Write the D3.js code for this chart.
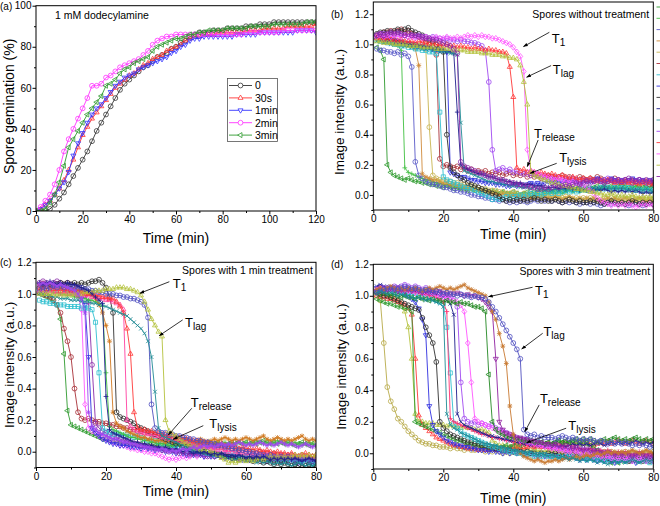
<!DOCTYPE html>
<html><head><meta charset="utf-8">
<script src="https://cdn.jsdelivr.net/npm/d3@7"></script>
<style>body{margin:0;background:#fff}svg{display:block}</style>
</head><body><svg id="c" width="660" height="506"></svg>
<script>
// ---------------- Panel (a) data ----------------
const germTimes = [0,2,4,6,8,10,12,14,16,18,20,22,24,26,28,30,32,34,36,38,40,42,44,46,48,50,52,54,56,58,60,62,64,66,68,70,72,74,76,78,80,82,84,86,88,90,92,94,96,98,100,102,104,106,108,110,112,114,116,118,120];
const germLabels = ["0","30s","1min","2min","3min"];
const germ0 = [0,0,0,1,3,6,9,13,17,21,25,29,34,39,43,47,51,55,59,62,64,66,68,70,71,73,75,76,77,79,80,82,83,85,86,87,87,87,88,88,88,89,89,89,89,90,90,90,91,91,91,92,92,92,92,92,92,92,92,92,92];
const germ30s = [0,1,3,5,8,11,15,20,25,31,37,41,45,48,51,54,57,60,62,64,66,67,69,71,72,74,75,76,78,79,80,81,83,84,85,85,86,86,86,87,87,87,87,87,87,88,88,88,88,89,89,89,89,89,90,90,90,90,90,90,91];
const germ1min = [0,1,3,5,8,11,14,19,27,33,38,43,47,50,52,55,58,61,63,65,66,67,69,70,71,72,73,74,75,77,78,80,81,83,84,84,85,85,85,85,85,85,85,86,86,86,86,86,87,87,87,87,87,87,87,87,88,88,88,88,87];
const germ2min = [0,2,5,8,13,20,29,35,40,45,50,55,61,61,62,65,66,68,70,71,72,73,74,76,78,81,83,84,85,85,86,86,86,86,86,86,86,86,86,86,86,86,86,86,86,87,87,87,87,87,87,87,87,88,88,88,88,88,88,88,88];
const germ3min = [0,0,1,4,8,14,22,31,35,39,43,47,50,53,56,61,62,64,67,69,70,72,73,74,75,78,80,81,82,83,84,84,85,86,86,87,87,88,88,88,88,89,89,89,89,89,90,90,90,90,90,91,91,91,91,91,91,91,92,92,92];

// ---------------- Panels (b)-(d): shared time axis ----------------
const minutes = [1,2,3,4,5,6,7,8,9,10,11,12,13,14,15,16,17,18,19,20,21,22,23,24,25,26,27,28,29,30,31,32,33,34,35,36,37,38,39,40,41,42,43,44,45,46,47,48,49,50,51,52,53,54,55,56,57,58,59,60,61,62,63,64,65,66,67,68,69,70,71,72,73,74,75,76,77,78,79,80];

// ---- Panel (b): spores without treatment ----
const b01 = [.98,.96,.90,.20,.15,.13,.12,.11,.10,.11, .10,.09,.09,.08,.08,.07,.07,.06,.06,.05, .06,.05,.04,.05,.04,.04,.03,.04,.03,.03, .02,.03,.02,.02,.02,.01,.02,.01,.01,.02, .01,0,.01,.02,.01,.02,.02,.03,.02,.03, .02,.03,.04,.03,.03,.04,.03,.04,.05,.04, .05,.04,.05,.06,.05,.06,.05,.06,.05,.06, .07,.06,.05,.06,.05,.06,.05,.06,.05,.06];
const b02 = [1.04,1.03,1.02,1.02,1.01,1.00,.99,.96,.18,.15, .14,.13,.12,.11,.10,.10,.09,.08,.08,.07, .07,.06,.06,.05,.05,.05,.04,.04,.03,.03, .03,.02,.02,.03,.02,.01,.02,.01,.01,0, .01,0,.01,0,-.01,0,.01,0,.01,.01, .02,.01,.02,.01,.02,.03,.02,.03,.02,.03, .04,.03,.04,.03,.04,.05,.04,.05,.04,.05, .04,.05,.04,.05,.06,.05,.04,.05,.04,.05];
const b03 = [.97,.96,.96,.95,.95,.94,.95,.93,.94,.92, .85,.22,.13,.11,.09,.08,.07,.07,.06,.05, .05,.04,.03,.03,.02,.02,.01,0,0,-.01, -.01,-.02,-.02,-.03,-.03,-.04,-.03,-.04,-.05,-.04, -.05,-.04,-.04,-.05,-.04,-.03,-.04,-.03,-.04,-.03, -.04,-.03,-.04,-.05,-.04,-.05,-.04,-.05,-.06,-.05, -.05,-.06,-.05,-.06,-.07,-.06,-.05,-.06,-.05,-.06, -.05,-.06,-.07,-.06,-.05,-.06,-.07,-.06,-.05,-.06];
const b04 = [1.06,1.05,1.05,1.04,1.04,1.03,1.03,1.02,1.01,1.00, .99,.97,.86,.14,.12,.11,.10,.10,.09,.08, .08,.07,.07,.06,.06,.05,.05,.04,.04,.03, .03,.02,.02,.01,.01,0,.01,0,-.01,0, -.01,-.01,-.02,-.01,-.02,-.02,-.01,-.02,-.01,-.02, -.02,-.01,-.02,-.03,-.02,-.01,-.02,-.03,-.02,-.03, -.02,-.03,-.02,-.03,-.04,-.03,-.02,-.03,-.02,-.03, -.03,-.02,-.03,-.04,-.03,-.02,-.03,-.04,-.03,-.04];
const b05 = [1.05,1.04,1.04,1.03,1.02,1.02,1.01,1.01,1.00,1.00, .99,.99,.98,.98,.97,.45,.13,.11,.10,.10, .09,.09,.08,.08,.07,.07,.06,.06,.05,.05, .04,.04,.03,.03,.03,.02,.02,.01,.01,.02, .01,0,.01,0,0,-.01,0,-.01,0,-.01, -.01,-.02,-.01,-.02,-.01,-.02,-.03,-.02,-.03,-.02, -.03,-.02,-.03,-.04,-.03,-.02,-.03,-.02,-.03,-.04, -.03,-.04,-.03,-.02,-.03,-.04,-.03,-.02,-.03,-.04];
const b06 = [1.06,1.07,1.08,1.08,1.09,1.08,1.09,1.10,1.08,1.09, 1.07,1.06,1.05,1.03,1.02,1.00,.98,.93,.24,.19, .20,.19,.18,.19,.17,.18,.16,.17,.15,.16, .15,.16,.14,.15,.14,.15,.13,.14,.15,.13, .14,.13,.14,.12,.13,.12,.13,.11,.12,.13, .12,.11,.12,.13,.11,.12,.11,.10,.12,.11, .10,.11,.10,.12,.11,.10,.09,.10,.11,.10, .09,.10,.09,.08,.09,.10,.09,.08,.07,.08];
const b07 = [1.03,1.02,1.02,1.01,1.01,1.00,1.00,.99,.99,.98, .98,.97,.97,.96,.96,.95,.95,.94,.55,.12, .10,.09,.08,.07,.06,.05,.05,.04,.03,.02, .01,0,-.01,-.03,-.02,-.03,-.02,-.01,-.02,-.01, -.01,0,-.01,0,.01,0,.01,0,.01,.02, .01,.02,.01,.02,.03,.02,.03,.02,.03,.04, .03,.04,.03,.04,.05,.04,.05,.04,.05,.04, .05,.04,.05,.04,.03,.04,.03,.04,.03,.04];
const b08 = [1.05,1.05,1.04,1.04,1.03,1.03,1.02,1.02,1.01,1.01, 1.00,1.00,.99,.99,.98,.98,.97,.97,.96,.96, .95,.15,.14,.13,.12,.12,.11,.10,.10,.09, .09,.08,.08,.08,.07,.07,.07,.06,.06,.07, .06,.07,.06,.07,.08,.07,.08,.07,.08,.09, .08,.09,.08,.09,.10,.09,.10,.09,.08,.09, .10,.09,.10,.11,.10,.09,.10,.11,.10,.09, .10,.09,.10,.11,.10,.09,.10,.09,.10,.09];
const b09 = [1.07,1.08,1.08,1.09,1.08,1.09,1.10,1.09,1.10,1.11, 1.09,1.08,1.07,1.06,1.05,1.03,1.02,1.00,.98,.95, .40,.18,.15,.13,.11,.10,.08,.07,.06,.05, .04,.03,.02,.01,0,-.01,-.03,-.04,-.03,-.04, -.03,-.04,-.03,-.04,-.03,-.02,-.03,-.04,-.03,-.04, -.04,-.03,-.04,-.05,-.04,-.03,-.04,-.05,-.04,-.05, -.05,-.04,-.05,-.04,-.05,-.06,-.05,-.04,-.05,-.06, -.05,-.06,-.05,-.04,-.05,-.06,-.05,-.06,-.05,-.06];
const b10 = [1.04,1.04,1.03,1.03,1.03,1.02,1.02,1.01,1.01,1.00, 1.00,1.00,.99,.99,.98,.98,.97,.97,.96,.96, .95,.95,.94,.55,.20,.18,.17,.16,.15,.14, .14,.13,.12,.12,.11,.10,.10,.09,.09,.08, .08,.08,.07,.07,.07,.06,.06,.06,.05,.05, .05,.05,.04,.05,.04,.05,.04,.04,.03,.04, .03,.04,.03,.04,.03,.04,.03,.02,.03,.02, .03,.02,.03,.02,.03,.02,.01,.02,.01,.02];
const b11 = [1.02,1.02,1.01,1.01,1.00,1.00,1.00,.99,.99,.99, .98,.98,.98,.97,.97,.97,.96,.96,.95,.95, .95,.94,.94,.93,.48,.16,.15,.14,.13,.12, .11,.10,.09,.09,.08,.08,.07,.07,.06,.06, .06,.05,.05,.05,.04,.05,.04,.04,.03,.04, .03,.04,.03,.04,.03,.04,.05,.04,.05,.04, .05,.04,.05,.04,.05,.06,.05,.04,.05,.04, .05,.04,.03,.04,.03,.04,.03,.04,.03,.02];
const b12 = [1.06,1.07,1.07,1.06,1.07,1.06,1.07,1.06,1.06,1.05, 1.06,1.05,1.06,1.05,1.05,1.04,1.05,1.04,1.04,1.03, 1.04,1.03,1.03,1.02,1.03,1.02,1.02,1.01,1.01,1.00, .99,.96,.75,.30,.16,.17,.18,.16,.17,.15, .16,.15,.14,.15,.13,.14,.13,.12,.13,.12, .11,.12,.11,.10,.11,.10,.11,.10,.09,.10, .09,.10,.09,.10,.09,.10,.11,.10,.09,.10, .09,.10,.09,.08,.09,.10,.09,.08,.09,.08];
const b13 = [1.04,1.04,1.03,1.04,1.03,1.03,1.02,1.03,1.02,1.02, 1.02,1.01,1.02,1.01,1.01,1.00,1.01,1.00,1.00,.99, 1.00,.99,.99,.98,.99,.98,.98,.97,.98,.97, .97,.96,.97,.96,.96,.95,.95,.94,.85,.65, .18,.16,.17,.15,.16,.15,.14,.15,.14,.13, .14,.13,.12,.13,.12,.11,.12,.11,.10,.11, .10,.11,.10,.09,.10,.09,.10,.09,.08,.09, .08,.09,.08,.09,.08,.07,.08,.09,.08,.07];
const b14 = [1.05,1.06,1.05,1.06,1.05,1.06,1.05,1.05,1.06,1.05, 1.05,1.04,1.05,1.04,1.05,1.04,1.04,1.05,1.04,1.04, 1.05,1.04,1.04,1.05,1.04,1.05,1.06,1.05,1.06,1.05, 1.06,1.05,1.05,1.04,1.04,1.03,1.02,1.01,1.00,.98, .95,.92,.82,.30,.16,.15,.14,.13,.12,.12, .11,.10,.11,.10,.09,.08,.09,.08,.07,.06, .05,.03,.01,-.02,-.04,-.05,-.06,-.07,-.06,-.07, -.06,-.07,-.06,-.07,-.08,-.07,-.06,-.07,-.06,-.07];
const b15 = [1.02,1.02,1.01,1.01,1.01,1.00,1.00,1.00,1.00,.99, .99,.99,.99,.98,.98,.98,.98,.97,.97,.97, .97,.97,.96,.96,.96,.96,.95,.95,.95,.95, .94,.94,.94,.93,.93,.93,.92,.92,.91,.91, .90,.86,.75,.60,.15,.13,.12,.11,.10,.09, .08,.08,.07,.06,.06,.05,.05,.04,.04,.03, .03,.02,.02,.01,.01,0,0,.01,0,-.01, 0,-.01,-.01,0,-.01,-.02,-.01,-.02,-.01,-.02];
const b16 = [1.06,1.07,1.06,1.07,1.08,1.07,1.08,1.07,1.06,1.07, 1.06,1.06,1.05,1.05,1.04,1.04,1.03,1.03,1.02,1.01, 1.00,.99,.97,.94,.22,.19,.18,.17,.16,.15, .14,.13,.12,.12,.11,.10,.10,.09,.08,.08, .07,.07,.06,.06,.05,.05,.04,.04,.05,.04, .05,.06,.05,.06,.07,.06,.07,.08,.07,.08, .09,.08,.09,.10,.09,.08,.09,.10,.09,.10, .09,.10,.11,.10,.09,.10,.09,.10,.09,.10];

// ---- Panel (c): spores with 1 min treatment ----
const c01 = [1.00,.99,.98,.97,.95,.93,.84,.62,.26,.17, .16,.15,.14,.13,.12,.11,.10,.09,.08,.08, .07,.07,.06,.06,.05,.05,.05,.05,.04,.05, .04,.04,.05,.04,.04,.03,.04,.04,.03,.04, .04,.05,.04,.05,.04,.05,.04,.05,.06,.05, .05,.06,.05,.04,.05,.06,.05,.06,.05,.06, .05,.06,.05,.06,.07,.06,.05,.06,.05,.06, .05,.06,.05,.04,.05,.06,.05,.04,.05,.04];
const c02 = [1.01,1.00,.99,.98,.96,.93,.88,.78,.70,.60, .40,.25,.21,.20,.21,.20,.19,.19,.18,.18, .17,.17,.16,.16,.15,.15,.14,.14,.13,.13, .12,.12,.11,.11,.10,.10,.09,.09,.08,.08, .07,.07,.06,.06,.05,.05,.05,.04,.04,.04, .03,.03,.03,.02,.02,.02,.01,.01,.01,0, 0,0,-.01,0,-.01,-.01,-.02,-.01,-.02,-.02, -.02,-.03,-.02,-.03,-.03,-.02,-.03,-.04,-.03,-.04];
const c03 = [1.05,1.06,1.05,1.06,1.05,1.04,1.05,1.04,1.03,1.02, 1.01,.99,.90,.30,.15,.13,.12,.10,.09,.08, .07,.06,.05,.04,.04,.03,.02,.02,.01,.01, 0,0,-.01,-.01,-.02,-.03,-.04,-.05,-.04,-.05, -.04,-.03,-.04,-.03,-.02,-.03,-.02,-.03,-.02,-.01, -.02,-.01,-.02,-.01,-.02,-.03,-.02,-.03,-.04,-.03, -.04,-.03,-.04,-.05,-.04,-.03,-.04,-.05,-.04,-.05, -.04,-.05,-.04,-.05,-.06,-.05,-.04,-.05,-.06,-.05];
const c04 = [1.06,1.05,1.06,1.05,1.04,1.05,1.04,1.03,1.02,1.01, 1.00,.99,.97,.93,.60,.15,.12,.10,.08,.07, .06,.05,.05,.04,.04,.04,.03,.03,.03,.02, .03,.02,.02,.01,.02,.01,0,.01,0,-.01, 0,-.01,-.02,-.01,-.02,-.01,-.02,-.03,-.02,-.03, -.03,-.02,-.03,-.04,-.03,-.04,-.03,-.04,-.05,-.04, -.05,-.04,-.05,-.04,-.05,-.06,-.05,-.04,-.05,-.06, -.05,-.06,-.05,-.06,-.07,-.06,-.05,-.06,-.07,-.06];
const c05 = [1.07,1.08,1.07,1.06,1.07,1.08,1.07,1.06,1.07,1.06, 1.05,1.04,1.02,.99,.95,.55,.18,.15,.13,.12, .11,.10,.09,.08,.07,.07,.06,.05,.05,.04, .04,.03,.03,.02,.02,.01,.01,0,.01,0, -.01,0,-.01,-.02,-.01,-.02,-.01,-.02,-.03,-.02, -.03,-.02,-.03,-.02,-.03,-.04,-.03,-.04,-.03,-.04, -.03,-.04,-.05,-.04,-.03,-.04,-.05,-.04,-.05,-.04, -.05,-.04,-.05,-.06,-.05,-.04,-.05,-.06,-.05,-.06];
const c06 = [.96,.95,.95,.94,.94,.93,.93,.93,.92,.92, .92,.92,.91,.91,.91,.90,.82,.50,.15,.13, .12,.11,.12,.11,.10,.11,.10,.09,.10,.09, .08,.07,.08,.07,.06,.05,.06,.05,.04,.04, .03,.03,.02,.02,.01,.01,0,0,-.01,-.01, -.02,-.01,-.02,-.03,-.02,-.03,-.02,-.03,-.04,-.03, -.04,-.03,-.04,-.05,-.04,-.05,-.04,-.05,-.06,-.05, -.06,-.05,-.06,-.07,-.06,-.07,-.06,-.07,-.08,-.07];
const c07 = [1.03,1.03,1.02,1.02,1.01,1.01,1.00,1.00,.99,.99, .98,.98,.97,.97,.96,.96,.95,.94,.92,.50, .16,.14,.13,.12,.11,.10,.09,.09,.08,.08, .07,.07,.06,.06,.05,.05,.05,.04,.04,.05, .04,.05,.04,.05,.04,.05,.06,.05,.04,.05, .05,.06,.05,.06,.05,.04,.05,.06,.05,.06, .05,.06,.07,.06,.05,.06,.05,.06,.07,.06, .05,.06,.05,.06,.05,.04,.05,.06,.05,.04];
const c08 = [1.06,1.07,1.06,1.05,1.06,1.05,1.04,1.05,1.04,1.03, 1.03,1.02,1.02,1.01,1.00,.99,.97,.93,.88,.80, .70,.25,.18,.16,.15,.13,.12,.11,.10,.09, .09,.08,.08,.07,.07,.07,.06,.07,.06,.07, .06,.07,.08,.07,.06,.07,.08,.07,.06,.07, .08,.07,.08,.09,.08,.07,.08,.07,.08,.09, .08,.07,.08,.09,.10,.08,.07,.08,.09,.08, .07,.08,.07,.08,.09,.10,.08,.07,.08,.07];
const c09 = [1.04,1.05,1.05,1.06,1.05,1.06,1.07,1.06,1.07,1.06, 1.07,1.06,1.07,1.06,1.07,1.08,1.08,1.09,1.07,1.04, .98,.88,.25,.22,.21,.20,.19,.18,.16,.15, .14,.13,.12,.11,.10,.09,.08,.07,.06,.05, .05,.04,.03,.03,.02,.01,.01,0,0,-.01, -.01,-.02,-.02,-.03,-.03,-.04,-.04,-.05,-.04,-.05, -.05,-.06,-.05,-.06,-.07,-.06,-.07,-.08,-.07,-.08, -.07,-.08,-.09,-.08,-.09,-.10,-.09,-.08,-.09,-.10];
const c10 = [1.02,1.02,1.01,1.02,1.01,1.01,1.00,1.01,1.00,1.00, 1.00,.99,1.00,.99,.99,.98,.98,.97,.97,.96, .96,.95,.94,.93,.90,.20,.16,.14,.13,.12, .12,.11,.11,.10,.10,.09,.09,.08,.08,.07, .07,.06,.06,.05,.05,.04,.04,.03,.03,.02, .02,.01,.02,.01,0,.01,0,-.01,0,-.01, -.01,-.02,-.01,-.02,-.01,-.02,-.03,-.02,-.03,-.02, -.03,-.02,-.03,-.04,-.03,-.02,-.03,-.04,-.03,-.04];
const c11 = [1.04,1.04,1.03,1.04,1.03,1.03,1.02,1.03,1.02,1.02, 1.02,1.01,1.01,1.00,1.00,1.00,.99,.99,.98,.98, .97,.97,.95,.92,.88,.78,.62,.25,.15,.14, .14,.13,.13,.12,.12,.11,.11,.10,.10,.09, .09,.09,.08,.08,.07,.07,.06,.06,.06,.05, .05,.04,.05,.04,.03,.04,.03,.02,.03,.02, .02,.01,.02,.01,0,.01,0,-.01,0,-.01, -.01,-.02,-.01,-.02,-.03,-.02,-.01,-.02,-.03,-.02];
const c12 = [1.03,1.04,1.03,1.04,1.05,1.04,1.05,1.04,1.05,1.04, 1.04,1.03,1.04,1.03,1.03,1.02,1.02,1.01,1.01,1.00, 1.00,1.00,.99,.99,.98,.98,.97,.97,.96,.95, .93,.85,.30,.15,.13,.12,.12,.11,.11,.10, .10,.09,.09,.08,.08,.07,.07,.06,.06,.05, .05,.04,.04,.03,.03,.02,.02,.01,.01,0, 0,-.01,-.01,-.02,-.02,-.03,-.02,-.03,-.04,-.03, -.04,-.03,-.04,-.05,-.04,-.05,-.04,-.05,-.06,-.05];
const c13 = [1.00,1.00,.99,.99,.98,.98,.97,.97,.97,.96, .96,.96,.95,.95,.95,.94,.94,.93,.93,.92, .91,.90,.89,.88,.87,.86,.84,.82,.80,.78, .75,.70,.60,.38,.15,.10,.09,.08,.07,.06, .05,.04,.03,.02,.01,0,0,-.01,-.01,-.02, -.02,-.03,-.03,-.04,-.04,-.05,-.05,-.04,-.05,-.06, -.05,-.06,-.07,-.06,-.07,-.06,-.07,-.08,-.07,-.08, -.07,-.08,-.09,-.08,-.07,-.08,-.09,-.08,-.09,-.08];
const c14 = [1.00,1.00,1.00,1.00,1.00,.99,1.00,.99,1.00,.99, 1.00,1.00,1.00,1.01,1.01,1.01,1.02,1.02,1.02,1.03, 1.03,1.03,1.04,1.04,1.04,1.03,1.03,1.02,1.01,.99, .95,.90,.84,.80,.76,.73,.20,.13,.11,.10, .08,.06,.05,.04,.03,.02,.01,.01,0,0, -.01,-.02,-.04,-.05,-.07,-.06,-.07,-.06,-.05,-.06, -.05,-.06,-.05,-.04,-.05,-.04,-.03,-.04,-.03,-.04, -.03,-.04,-.03,-.02,-.03,-.02,-.03,-.02,-.03,-.02];
const c15 = [1.07,1.06,1.07,1.08,1.07,1.06,1.07,1.06,1.07,1.06, 1.06,1.05,1.04,1.03,1.02,1.00,.98,.96,.94,.35, .14,.12,.11,.10,.09,.08,.07,.06,.06,.05, .05,.04,.04,.03,.03,.02,.03,.02,.01,.02, .01,0,.01,0,-.01,0,-.01,0,-.01,-.02, -.01,-.02,-.01,-.02,-.03,-.02,-.03,-.02,-.03,-.04, -.03,-.04,-.03,-.04,-.03,-.04,-.05,-.04,-.05,-.04, -.05,-.04,-.05,-.04,-.05,-.06,-.05,-.04,-.05,-.06];
const c16 = [1.06,1.07,1.06,1.07,1.06,1.05,1.06,1.05,1.04,1.03, 1.02,1.00,.97,.88,.25,.16,.14,.12,.11,.10, .09,.08,.08,.07,.06,.06,.05,.05,.04,.04, .03,.03,.02,.02,.01,.02,.01,0,.01,0, .01,.02,.01,.02,.03,.02,.03,.04,.03,.04, .03,.04,.05,.04,.05,.04,.05,.06,.05,.04, .05,.04,.05,.06,.05,.04,.05,.04,.05,.06, .05,.04,.05,.04,.03,.04,.05,.04,.03,.04];

// ---- Panel (d): spores with 3 min treatment ----
const d01 = [1.00,.97,.70,.42,.33,.28,.22,.20,.17,.14, .12,.10,.08,.07,.06,.06,.05,.05,.04,.04, .04,.03,.04,.03,.03,.02,.03,.02,.02,.03, .02,.01,.02,.01,.02,.01,0,.01,0,.01, 0,.01,0,-.01,0,.01,0,-.01,0,.01, 0,.01,0,.01,0,-.01,0,.01,0,.01, 0,.01,.02,.01,0,.01,0,.01,0,-.01, 0,.01,0,.01,0,-.01,0,.01,0,.01];
const d02 = [1.02,1.01,1.01,1.00,.99,.98,.97,.95,.90,.80, .60,.25,.20,.20,.19,.19,.19,.18,.18,.18, .17,.18,.17,.17,.16,.17,.16,.16,.15,.15, .15,.14,.13,.08,.06,.05,.05,.04,.04,.04, .03,.03,.03,.02,.02,.02,.02,.01,.01,.01, .01,0,.01,0,0,.01,0,-.01,0,0, -.01,0,-.01,0,-.01,-.02,-.01,0,-.01,0, -.01,-.02,-.01,0,-.01,-.02,-.01,0,-.01,-.02];
const d03 = [1.00,.99,.99,.98,.98,.97,.96,.95,.94,.92, .88,.60,.24,.18,.16,.14,.12,.10,.09,.08, .07,.06,.05,.05,.04,.04,.03,.03,.03,.02, .03,.02,.02,.03,.02,.02,.03,.02,.03,.04, .03,.04,.03,.04,.05,.04,.05,.04,.05,.06, .05,.06,.05,.06,.07,.06,.05,.06,.07,.06, .07,.06,.05,.06,.07,.06,.07,.06,.07,.08, .07,.06,.07,.08,.07,.06,.07,.08,.07,.06];
const d04 = [.98,.97,.96,.95,.95,.94,.93,.93,.92,.92, .90,.20,.19,.18,.17,.16,.15,.14,.13,.12, .11,.10,.09,.08,.08,.07,.06,.06,.05,.05, .04,.04,.03,.03,.04,.03,.04,.05,.04,.05, .06,.05,.06,.07,.06,.05,.06,.07,.06,.07, .06,.07,.08,.07,.06,.07,.08,.07,.06,.07, .06,.05,.04,.02,0,-.02,-.04,-.06,-.05,-.06, -.05,-.04,-.05,-.04,-.05,-.04,-.03,-.04,-.03,-.04];
const d05 = [1.05,1.06,1.05,1.04,1.05,1.04,1.03,1.02,1.01,1.00, .98,.96,.92,.85,.75,.30,.18,.14,.12,.10, .08,.07,.06,.05,.05,.04,.04,.03,.03,.02, .02,.02,.01,.02,.01,.01,0,.01,0,.01, 0,.01,0,-.01,0,-.01,-.02,-.01,-.02,-.01, -.02,-.01,-.02,-.03,-.02,-.03,-.02,-.03,-.04,-.03, -.04,-.03,-.04,-.05,-.04,-.05,-.04,-.05,-.06,-.05, -.04,-.05,-.04,-.05,-.06,-.05,-.04,-.05,-.04,-.05];
const d06 = [1.02,1.01,1.00,1.00,.99,.98,.97,.96,.95,.94, .93,.92,.91,.86,.80,.75,.70,.58,.20,.16, .14,.12,.11,.10,.09,.08,.07,.07,.06,.06, .05,.05,.04,.04,.03,.03,.02,.02,.02,.01, .01,.01,0,.01,0,0,-.01,0,-.01,0, -.01,0,-.01,-.02,-.01,-.02,-.01,-.02,-.03,-.02, -.03,-.02,-.03,-.02,-.03,-.04,-.03,-.04,-.03,-.04, -.03,-.04,-.05,-.04,-.03,-.04,-.05,-.04,-.05,-.04];
const d07 = [1.03,1.04,1.03,1.04,1.03,1.02,1.03,1.02,1.01,1.02, 1.01,1.00,1.00,.99,.99,.98,.98,.97,.96,.95, .80,.51,.19,.16,.14,.12,.11,.10,.09,.08, .07,.06,.05,.04,.04,.03,.02,.02,.01,.01, 0,0,-.01,0,-.01,-.02,-.01,-.02,-.01,-.02, -.02,-.03,-.02,-.03,-.02,-.01,-.02,-.03,-.02,-.03, -.04,-.03,-.04,-.03,-.04,-.05,-.04,-.03,-.04,-.05, -.04,-.05,-.04,-.03,-.04,-.05,-.04,-.05,-.06,-.05];
const d08 = [1.04,1.05,1.04,1.05,1.04,1.05,1.04,1.03,1.04,1.03, 1.03,1.02,1.02,1.01,1.01,1.00,1.00,.99,.98,.96, .90,.22,.20,.19,.18,.17,.16,.15,.14,.13, .12,.12,.11,.10,.10,.09,.09,.08,.08,.07, .07,.06,.06,.05,.05,.04,.05,.04,.04,.03, .03,.04,.03,.04,.03,.02,.03,.02,.03,.02, .02,.03,.02,.01,.02,.01,.02,.01,0,.01, 0,.01,0,-.01,0,.01,0,-.01,0,-.01];
const d09 = [1.06,1.07,1.06,1.05,1.06,1.05,1.06,1.05,1.04,1.05, 1.04,1.03,1.04,1.03,1.02,1.03,1.02,1.01,1.00,.99, .97,.95,.88,.25,.20,.18,.17,.16,.15,.14, .13,.12,.11,.11,.10,.10,.09,.09,.08,.08, .07,.07,.06,.06,.05,.06,.05,.05,.04,.05, .04,.05,.04,.05,.04,.05,.06,.05,.06,.05, .06,.05,.06,.07,.06,.05,.06,.07,.06,.07, .06,.07,.06,.07,.08,.07,.06,.07,.06,.07];
const d10 = [1.03,1.04,1.05,1.04,1.05,1.06,1.05,1.06,1.07,1.06, 1.05,1.06,1.05,1.04,1.05,1.04,1.03,1.03,1.02,1.01, 1.00,.99,.97,.93,.45,.22,.20,.19,.20,.18, .19,.18,.17,.18,.16,.15,.14,.13,.12,.11, .10,.09,.09,.08,.07,.07,.06,.06,.05,.05, .04,.04,.03,.03,.02,.02,.03,.02,.01,.02, .01,0,.01,0,-.01,0,-.01,-.02,-.01,-.02, -.01,-.02,-.03,-.02,-.01,-.02,-.03,-.02,-.03,-.02];
const d11 = [1.04,1.05,1.04,1.05,1.04,1.05,1.04,1.03,1.04,1.03, 1.03,1.02,1.03,1.02,1.01,1.02,1.01,1.00,1.00,.99, .99,.98,.97,.96,.94,.90,.70,.45,.22,.20, .19,.18,.17,.16,.15,.14,.13,.12,.11,.10, .09,.08,.08,.07,.06,.06,.05,.05,.04,.04, .03,.03,.02,.02,.01,.01,0,.01,0,-.01, 0,-.01,-.02,-.01,-.02,-.03,-.02,-.03,-.04,-.03, -.04,-.03,-.04,-.05,-.04,-.03,-.04,-.05,-.04,-.05];
const d12 = [1.02,1.01,1.02,1.01,1.00,1.01,1.00,.99,1.00,.99, .99,.98,.99,.98,.98,.97,.98,.97,.97,.96, .97,.96,.96,.95,.96,.95,.95,.94,.93,.93, .92,.90,.50,.20,.15,.13,.12,.11,.10,.10, .09,.09,.08,.08,.08,.07,.07,.07,.06,.07, .06,.07,.08,.07,.08,.07,.08,.09,.08,.09, .08,.09,.08,.07,.08,.09,.08,.09,.10,.09, .08,.09,.08,.09,.10,.09,.08,.09,.08,.09];
const d13 = [1.03,1.04,1.03,1.04,1.05,1.04,1.03,1.04,1.03,1.04, 1.03,1.04,1.03,1.02,1.03,1.02,1.03,1.02,1.03,1.02, 1.01,1.02,1.01,1.02,1.01,1.00,1.01,1.00,1.00,.99, .98,.96,.93,.90,.60,.20,.15,.13,.12,.11, .10,.10,.09,.09,.08,.08,.07,.07,.06,.06, .05,.06,.05,.04,.05,.04,.03,.04,.03,.02, .03,.02,.01,.02,.01,0,.01,0,-.01,0, -.01,0,-.01,-.02,-.01,0,-.01,-.02,-.01,-.02];
const d14 = [1.04,1.05,1.04,1.05,1.06,1.05,1.04,1.05,1.04,1.05, 1.04,1.05,1.04,1.03,1.04,1.05,1.04,1.05,1.06,1.05, 1.04,1.05,1.04,1.05,1.06,1.07,1.05,1.04,1.03,1.02, 1.01,1.00,.96,.90,.85,.76,.68,.57,.30,.12, .04,0,-.02,-.03,-.04,-.05,-.04,-.05,-.06,-.05, -.05,-.04,-.05,-.04,-.03,-.04,-.03,-.02,-.03,-.02, -.01,-.02,-.01,0,-.01,0,.01,0,.01,0, .01,0,.01,.02,.01,0,.01,.02,.01,0];
const d15 = [1.02,1.03,1.04,1.05,1.04,1.05,1.04,1.05,1.06,1.05, 1.04,1.05,1.04,1.03,1.04,1.03,1.02,1.03,1.02,1.01, 1.02,1.01,1.01,1.00,1.01,1.00,1.00,.99,1.00,.99, .99,.98,.96,.93,.90,.86,.82,.78,.74,.70, .66,.60,.15,.12,.11,.12,.10,.11,.10,.10, .10,.09,.10,.11,.10,.09,.10,.09,.08,.09, .08,.09,.08,.07,.08,.07,.06,.07,.06,.07, .06,.07,.06,.05,.06,.05,.06,.05,.04,.05];
const d16 = [1.02,1.03,1.02,1.01,1.02,1.01,1.00,1.01,1.00,.99, .99,.98,.99,.98,.97,.98,.97,.96,.95,.93, .25,.18,.16,.15,.13,.12,.11,.10,.09,.08, .07,.06,.06,.05,.05,.04,.04,.03,.03,.02, .02,.01,.01,0,.01,0,-.01,0,-.01,-.02, -.01,-.02,-.03,-.02,-.03,-.04,-.03,-.04,-.05,-.04, -.05,-.04,-.05,-.06,-.05,-.06,-.07,-.06,-.05,-.06, -.05,-.06,-.05,-.04,-.05,-.06,-.05,-.04,-.05,-.04];

// axis ticks
const germXTicks = [0,20,40,60,80,100,120];
const germYTicks = [0,20,40,60,80,100];
const timeTicks = [0,20,40,60,80];
const intensityTicks = [0.0,0.2,0.4,0.6,0.8,1.0,1.2];

// ---------------- styles ----------------
const FONT = "Arial, 'Liberation Sans', Helvetica, sans-serif";
const germColors = ["#333333","#ff3333","#3333ff","#ff33ff","#2f9a2f"];
const germSymbols = ["circle","triUp","triDown","circle","triLeft"];
const bStyle = [["#2e9a2e","triLeft"],["#3fbf3f","plus"],["#5a5ac8","circle"],["#d08a3a","star"],["#c8b450","circle"],["#a83038","circle"],["#30c0d0","square"],["#2f2fe0","triDown"],["#303030","circle"],["#1e1e8c","plus"],["#1f8a94","times"],["#a048f0","circle"],["#ff3838","triUp"],["#ff55ff","diamond"],["#b4c23c","triUp"],["#8a2aa8","circle"]];
const cStyle = [["#2e9a2e","triLeft"],["#a83038","circle"],["#ff55ff","diamond"],["#2f2fe0","triDown"],["#8a2aa8","circle"],["#30c0d0","square"],["#3fbf3f","plus"],["#d07820","star"],["#303030","circle"],["#ff40a0","triUp"],["#ff3838","triUp"],["#5050c0","circle"],["#1f8a94","times"],["#b4c23c","triUp"],["#1e1e8c","plus"],["#a048f0","star"]];
const dStyle = [["#b8aa48","circle"],["#b4c23c","triUp"],["#ff3838","triUp"],["#2e9a2e","triLeft"],["#2f2fe0","triDown"],["#303030","circle"],["#30c0d0","square"],["#ff3070","plus"],["#1e1e8c","times"],["#a048f0","circle"],["#ff55ff","diamond"],["#228822","triLeft"],["#9020a0","triDown"],["#c87830","star"],["#5050c0","circle"],["#1f8a94","times"]];

function symPath(type, r){
  const p = d3.path();
  const a = r*1.2, b = r*0.8;
  switch(type){
    case "circle": p.moveTo(r,0); p.arc(0,0,r,0,2*Math.PI); break;
    case "triUp": p.moveTo(0,-a); p.lineTo(a*0.87,a*0.5); p.lineTo(-a*0.87,a*0.5); p.closePath(); break;
    case "triDown": p.moveTo(0,a); p.lineTo(a*0.87,-a*0.5); p.lineTo(-a*0.87,-a*0.5); p.closePath(); break;
    case "triLeft": p.moveTo(-a,0); p.lineTo(a*0.5,-a*0.87); p.lineTo(a*0.5,a*0.87); p.closePath(); break;
    case "square": p.rect(-r*0.85,-r*0.85,r*1.7,r*1.7); break;
    case "diamond": p.moveTo(0,-a); p.lineTo(r,0); p.lineTo(0,a); p.lineTo(-r,0); p.closePath(); break;
    case "plus": p.moveTo(-r,0); p.lineTo(r,0); p.moveTo(0,-r); p.lineTo(0,r); break;
    case "times": p.moveTo(-b,-b); p.lineTo(b,b); p.moveTo(-b,b); p.lineTo(b,-b); break;
    case "star": p.moveTo(-r,0); p.lineTo(r,0); p.moveTo(0,-r); p.lineTo(0,r); p.moveTo(-b,-b); p.lineTo(b,b); p.moveTo(-b,b); p.lineTo(b,-b); break;
  }
  return p.toString();
}

const svg = d3.select("#c");
const defs = svg.append("defs");
defs.append("marker").attr("id","arrow").attr("viewBox","0 0 10 10").attr("refX",9).attr("refY",5)
  .attr("markerWidth",6).attr("markerHeight",6).attr("orient","auto-start-reverse")
  .append("path").attr("d","M0,1.5 L10,5 L0,8.5 Z").attr("fill","#000");

function drawPanel(cfg){
  const x = d3.scaleLinear().domain(cfg.xDomain).range([cfg.left, cfg.right]);
  const y = d3.scaleLinear().domain(cfg.yDomain).range([cfg.bottom, cfg.top]);
  const g = svg.append("g");
  defs.append("clipPath").attr("id","clip"+cfg.name).append("rect")
    .attr("x",cfg.left).attr("y",cfg.top).attr("width",cfg.right-cfg.left).attr("height",cfg.bottom-cfg.top);
  const plot = g.append("g").attr("clip-path",`url(#clip${cfg.name})`);
  const line = d3.line().x(d=>x(d[0])).y(d=>y(d[1]));
  cfg.series.forEach(s=>{
    const pts = s.values.map((v,i)=>[cfg.times[i], v]);
    plot.append("path").attr("d",line(pts)).attr("fill","none").attr("stroke",s.color).attr("stroke-width",0.9);
    const sp = symPath(s.symbol, cfg.r);
    plot.append("g").selectAll("path").data(pts).join("path")
      .attr("transform",d=>`translate(${x(d[0]).toFixed(2)},${y(d[1]).toFixed(2)})`)
      .attr("d",sp).attr("fill","none").attr("stroke",s.color).attr("stroke-width",0.8);
  });
  // frame
  g.append("rect").attr("x",cfg.left).attr("y",cfg.top).attr("width",cfg.right-cfg.left).attr("height",cfg.bottom-cfg.top)
    .attr("fill","none").attr("stroke","#000").attr("stroke-width",1);
  // axes
  const xa = g.append("g").attr("transform",`translate(0,${cfg.bottom})`)
    .call(d3.axisBottom(x).tickValues(cfg.xTicks).tickSize(3.5).tickSizeOuter(0).tickPadding(1.5));
  const xm = g.append("g").attr("transform",`translate(0,${cfg.bottom})`)
    .call(d3.axisBottom(x).tickValues(cfg.xMinor).tickSize(2).tickSizeOuter(0).tickFormat(""));
  const ya = g.append("g").attr("transform",`translate(${cfg.left},0)`)
    .call(d3.axisLeft(y).tickValues(cfg.yTicks).tickSize(3.5).tickSizeOuter(0).tickPadding(1).tickFormat(cfg.yFormat));
  const ym = g.append("g").attr("transform",`translate(${cfg.left},0)`)
    .call(d3.axisLeft(y).tickValues(cfg.yMinor).tickSize(2).tickSizeOuter(0).tickFormat(""));
  [xa,xm,ya,ym].forEach(a=>{ a.select(".domain").remove(); a.selectAll("text").style("font-family",FONT).style("font-size","10px").attr("fill","#000"); a.selectAll("line").attr("stroke","#000"); });
  // titles
  g.append("text").attr("x",(cfg.left+cfg.right)/2).attr("y",cfg.xTitleY).attr("text-anchor","middle")
    .style("font-family",FONT).style("font-size",cfg.xTitleSize).text("Time (min)");
  g.append("text").attr("transform",`translate(${cfg.yTitleX},${(cfg.top+cfg.bottom)/2 + (cfg.yTitleShift||0)}) rotate(-90)`).attr("text-anchor","middle")
    .style("font-family",FONT).style("font-size",cfg.yTitleSize).text(cfg.yTitle);
  g.append("text").attr("x",cfg.tagX).attr("y",cfg.tagY).style("font-family",FONT).style("font-size","10px").text(cfg.tag);
  if(cfg.note){
    g.append("text").attr("x",x(cfg.note.t)).attr("y",y(cfg.note.v)).attr("text-anchor",cfg.note.anchor)
      .style("font-family",FONT).style("font-size","10.5px").text(cfg.note.text);
  }
  (cfg.annotations||[]).forEach(a=>{
    g.append("line").attr("x1",x(a.x1)).attr("y1",y(a.y1)).attr("x2",x(a.x2)).attr("y2",y(a.y2))
      .attr("stroke","#000").attr("stroke-width",0.8).attr("marker-end","url(#arrow)");
    const t = g.append("text").attr("x",x(a.tx)).attr("y",y(a.ty)).style("font-family",FONT).style("font-size","13px");
    t.append("tspan").text(a.main);
    t.append("tspan").attr("dy",3).style("font-size","10px").text(a.sub);
  });
  return {x,y,g};
}

// ---------- Panel (a) ----------
drawPanel({name:"a", left:36, right:316, top:5.7, bottom:211, xDomain:[0,120], yDomain:[0,100],
  times:germTimes, r:2.4,
  series:[germ0,germ30s,germ1min,germ2min,germ3min].map((v,i)=>({values:v,color:germColors[i],symbol:germSymbols[i]})),
  xTicks:germXTicks, xMinor:[10,30,50,70,90,110], yTicks:germYTicks, yMinor:[10,30,50,70,90], yFormat:d3.format("d"),
  xTitleY:243, xTitleSize:"14px", yTitle:"Spore gemination (%)", yTitleX:14, yTitleSize:"14px", yTitleShift:-2,
  tag:"(a)", tagX:0, tagY:10, note:{t:8.1, v:93.5, text:"1 mM dodecylamine", anchor:"start"}});
// legend (a)
const lg = svg.append("g");
lg.append("rect").attr("x",227.5).attr("y",78.5).attr("width",50).attr("height",63).attr("fill","#fff").attr("stroke","#555").attr("stroke-width",0.8);
germLabels.forEach((lab,i)=>{
  const yy = 85.5 + i*12.4;
  lg.append("line").attr("x1",229).attr("x2",252).attr("y1",yy).attr("y2",yy).attr("stroke",germColors[i]).attr("stroke-width",0.9);
  lg.append("path").attr("transform",`translate(240.5,${yy})`).attr("d",symPath(germSymbols[i],2.4)).attr("fill","#fff").attr("stroke",germColors[i]).attr("stroke-width",0.8);
  lg.append("text").attr("x",255).attr("y",yy+3.8).style("font-family",FONT).style("font-size","10.5px").text(lab);
});

// ---------- Panel (b) ----------
const intensityMinor = [-0.1,0.1,0.3,0.5,0.7,0.9,1.1];
drawPanel({name:"b", left:373.3, right:653.3, top:2, bottom:210, xDomain:[0,80], yDomain:[-0.1,1.2813],
  times:minutes, r:2.4,
  series:[b01,b02,b03,b04,b05,b06,b07,b08,b09,b10,b11,b12,b13,b14,b15,b16].map((v,i)=>({values:v,color:bStyle[i][0],symbol:bStyle[i][1]})),
  xTicks:timeTicks, xMinor:[10,30,50,70], yTicks:intensityTicks, yMinor:intensityMinor, yFormat:d3.format(".1f"),
  xTitleY:239, xTitleSize:"14px", yTitle:"Image intensity (a.u.)", yTitleX:344, yTitleSize:"13.5px", yTitleShift:6,
  tag:"(b)", tagX:331, tagY:18, note:{t:78.8, v:1.175, text:"Spores without treatment", anchor:"end"},
  annotations:[
    {main:"T",sub:"1",tx:51.0,ty:1.009,x1:50.3,y1:1.08,x2:42.9,y2:0.985},
    {main:"T",sub:"lag",tx:51.3,ty:0.803,x1:50.8,y1:0.859,x2:43.8,y2:0.782},
    {main:"T",sub:"release",tx:45.9,ty:0.378,x1:47.1,y1:0.365,x2:44.0,y2:0.188},
    {main:"T",sub:"lysis",tx:53.1,ty:0.219,x1:52.4,y1:0.210,x2:44.8,y2:0.144}
  ]});
// partially visible legend of panel (b) at the right edge
const lb = svg.append("g");
bStyle.forEach((s,i)=>{
  const yy = 7 + i*11.3;
  lb.append("line").attr("x1",656.5).attr("x2",672).attr("y1",yy).attr("y2",yy).attr("stroke",s[0]).attr("stroke-width",0.9);
});

// ---------- Panel (c) ----------
drawPanel({name:"c", left:36, right:316, top:262.3, bottom:467.5, xDomain:[0,80], yDomain:[-0.1,1.2],
  times:minutes, r:2.4,
  series:[c01,c02,c03,c04,c05,c06,c07,c08,c09,c10,c11,c12,c13,c14,c15,c16].map((v,i)=>({values:v,color:cStyle[i][0],symbol:cStyle[i][1]})),
  xTicks:timeTicks, xMinor:[10,30,50,70], yTicks:intensityTicks, yMinor:intensityMinor, yFormat:d3.format(".1f"),
  xTitleY:496, xTitleSize:"14px", yTitle:"Image intensity (a.u.)", yTitleX:14, yTitleSize:"13.5px",
  tag:"(c)", tagX:0, tagY:266, note:{t:79.1, v:1.123, text:"Spores with 1 min treatment", anchor:"end"},
  annotations:[
    {main:"T",sub:"1",tx:39.1,ty:1.035,x1:38.1,y1:1.077,x2:29.7,y2:1.004},
    {main:"T",sub:"lag",tx:42.6,ty:0.790,x1:41.9,y1:0.835,x2:35.2,y2:0.735},
    {main:"T",sub:"release",tx:44.2,ty:0.285,x1:44.5,y1:0.275,x2:37.8,y2:0.106},
    {main:"T",sub:"lysis",tx:49.5,ty:0.148,x1:47.8,y1:0.165,x2:39.2,y2:0.079}
  ]});

// ---------- Panel (d) ----------
drawPanel({name:"d", left:373.3, right:653.3, top:264.3, bottom:469, xDomain:[0,80], yDomain:[-0.1,1.2],
  times:minutes, r:2.4,
  series:[d01,d02,d03,d04,d05,d06,d07,d08,d09,d10,d11,d12,d13,d14,d15,d16].map((v,i)=>({values:v,color:dStyle[i][0],symbol:dStyle[i][1]})),
  xTicks:timeTicks, xMinor:[10,30,50,70], yTicks:intensityTicks, yMinor:intensityMinor, yFormat:d3.format(".1f"),
  xTitleY:503, xTitleSize:"14px", yTitle:"Image intensity (a.u.)", yTitleX:346, yTitleSize:"13.5px",
  tag:"(d)", tagX:331, tagY:268, note:{t:79.1, v:1.129, text:"Spores with 3 min treatment", anchor:"end"},
  annotations:[
    {main:"T",sub:"1",tx:46.2,ty:1.005,x1:45.5,y1:1.054,x2:32.9,y2:0.994},
    {main:"T",sub:"lag",tx:48.6,ty:0.745,x1:48.4,y1:0.762,x2:42.4,y2:0.662},
    {main:"T",sub:"release",tx:47.6,ty:0.317,x1:47.4,y1:0.307,x2:43.3,y2:0.137},
    {main:"T",sub:"lysis",tx:55.7,ty:0.148,x1:55.1,y1:0.159,x2:43.8,y2:0.067}
  ]});
</script></body></html>
